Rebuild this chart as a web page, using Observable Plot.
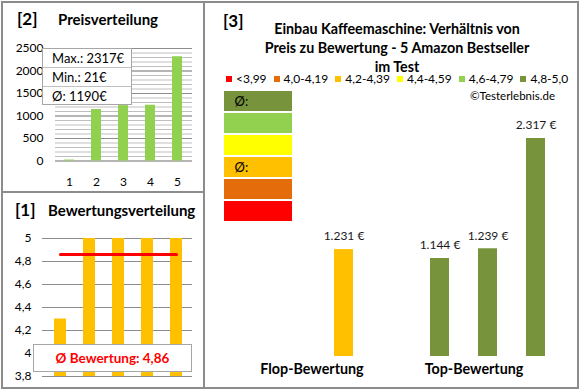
<!DOCTYPE html>
<html>
<head>
<meta charset="utf-8">
<script src="https://cdn.jsdelivr.net/npm/d3@7"></script>
<script src="https://cdn.jsdelivr.net/npm/@observablehq/plot@0.6"></script>
<style>
  html, body { margin: 0; padding: 0; background: #fff; }
  body { font-family: Lato, "Open Sans", sans-serif; color: #000; }
  #wrap { position: relative; width: 580px; height: 390px; overflow: hidden; }
  .abs { position: absolute; }
  .frame { position: absolute; border: 2px solid #8c8c8c; box-sizing: border-box; }
  .t-num { font-weight: 700; font-size: 17px; }
  .t-head { font-weight: 700; font-size: 15px; white-space: nowrap; }
  .t-main { font-weight: 700; font-size: 14.3px; white-space: nowrap; }
  .sumbox { background: #fff; border: 1px solid #a6a6a6; box-sizing: border-box; }
  .sumrow { height: 19px; line-height: 19px; padding-left: 9px; font-size: 13px; border-bottom: 1px solid #c0c0c0; box-sizing: border-box; }
  .sumrow:last-child { border-bottom: none; }
  .legend { display: flex; align-items: center; font-size: 12px; white-space: nowrap; }
  .legend span.sw { display: inline-block; width: 6px; height: 6px; margin-right: 4px; }
  .legend span.it { display: inline-flex; align-items: center; margin-right: 7px; }
</style>
</head>
<body>
<div id="wrap"></div>
<script>
// ---------------- data ----------------
const priceCats = ["1", "2", "3", "4", "5"];
const priceValues = [21, 1144, 1231, 1239, 2317];
const priceTicks = [0, 500, 1000, 1500, 2000, 2500];
const priceSummary = ["Max.: 2317€", "Min.: 21€", "Ø: 1190€"];

const ratingCats = ["1", "2", "3", "4", "5"];
const ratingValues = [4.3, 5, 5, 5, 5];
const ratingAvg = 4.86;
const ratingTicks = [3.8, 4, 4.2, 4.4, 4.6, 4.8, 5];
const ratingAvgLabel = "Ø Bewertung: 4,86";

const classLabels = ["<3,99", "4,0-4,19", "4,2-4,39", "4,4-4,59", "4,6-4,79", "4,8-5,0"];
const classColors = ["#FF0000", "#E46C0A", "#FFC000", "#FFFF00", "#92D050", "#77933C"];

const compSlots = ["s1", "s2", "s3", "s4", "s5"];
const compValues = [1231, 21, 1144, 1239, 2317];
const compClass = ["4,2-4,39", "4,8-5,0", "4,8-5,0", "4,8-5,0", "4,8-5,0"];
const compGroups = ["Flop-Bewertung", "Top-Bewertung"];
const compAxisMin = 186;

const stackMarked = ["4,8-5,0", "4,2-4,39"];

const titleLines = ["Einbau Kaffeemaschine: Verhältnis von", "Preis zu Bewertung - 5 Amazon Bestseller", "im Test"];
const copyright = "©Testerlebnis.de";

// ---------------- helpers ----------------
const wrap = document.getElementById("wrap");
function place(node, left, top) {
  node.style.position = "absolute";
  node.style.left = left + "px";
  node.style.top = top + "px";
  wrap.appendChild(node);
  return node;
}
function div(html, cls, left, top, extra) {
  const d = document.createElement("div");
  if (cls) d.className = cls;
  d.innerHTML = html;
  if (extra) Object.assign(d.style, extra);
  return place(d, left, top);
}
const de = d3.formatLocale({decimal: ",", thousands: ".", grouping: [3], currency: ["", "€"]});
const fmtThousands = de.format(",");
const fmtComma = d => String(d).replace(".", ",");
const baseStyle = {fontFamily: "Lato, 'Open Sans', sans-serif", fontSize: "12px", color: "#000", background: "transparent", overflow: "visible"};

// ---------------- panel [2] Preisverteilung ----------------
const priceRows = priceCats.map((c, i) => ({cat: c, value: priceValues[i]}));
const minorGrid = d3.range(0, 2501, 100);
const pricePlot = Plot.plot({
  width: 200, height: 192,
  marginLeft: 55, marginRight: 8, marginTop: 48, marginBottom: 31.5,
  style: baseStyle,
  x: {type: "band", domain: priceCats, range: [55.5, 190.5], paddingInner: 0.63, paddingOuter: 0.315, tickSize: 0, tickPadding: 16, label: null},
  y: {domain: [0, 2500], ticks: priceTicks, tickFormat: d => String(d), tickSize: 0, tickPadding: 12, label: null},
  marks: [
    Plot.ruleY(minorGrid, {stroke: "#bfbfbf", strokeWidth: 1}),
    Plot.ruleY(priceTicks, {stroke: "#8c8c8c", strokeWidth: 1}),
    Plot.barY(priceRows, {x: "cat", y: "value", fill: "#92D050"})
  ]
});
place(pricePlot, 0, 0);

// ---------------- panel [1] Bewertungsverteilung ----------------
const ratingRows = ratingCats.map((c, i) => ({cat: c, value: ratingValues[i]}));
const ratingPlot = Plot.plot({
  width: 200, height: 196,
  marginLeft: 42, marginRight: 8, marginTop: 46, marginBottom: 12,
  style: baseStyle,
  x: {type: "band", domain: ratingCats, range: [45.5, 190.5], paddingInner: 0.586, paddingOuter: 0.293, axis: null},
  y: {domain: [ratingTicks[0], ratingTicks[ratingTicks.length - 1]], ticks: ratingTicks, tickFormat: fmtComma, tickSize: 0, tickPadding: 11, label: null},
  marks: [
    Plot.ruleY(ratingTicks, {stroke: "#8c8c8c", strokeWidth: 1}),
    Plot.barY(ratingRows, {x: "cat", y1: () => ratingTicks[0], y2: "value", fill: "#FFC000"}),
    Plot.line(ratingCats, {x: d => d, y: () => ratingAvg, stroke: "#FF0000", strokeWidth: 3})
  ]
});
place(ratingPlot, 0, 192);

// ---------------- panel [3] comparison ----------------
const compRows = compSlots.map((s, i) => ({slot: s, value: compValues[i], cls: compClass[i]}));
const compPlot = Plot.plot({
  width: 373, height: 388,
  marginLeft: 0, marginRight: 0, marginTop: 0, marginBottom: 32,
  style: baseStyle,
  x: {type: "band", domain: compSlots, range: [114.5, 354.5], paddingInner: 0.604, paddingOuter: 0.302, axis: null},
  y: {domain: [compAxisMin, d3.max(compValues)], range: [356, 138], axis: null},
  color: {domain: classLabels, range: classColors},
  marks: [
    Plot.barY(compRows, {x: "slot", y: "value", fill: "cls", clip: true}),
    Plot.text(compRows, {x: "slot", y: "value", text: d => fmtThousands(d.value) + " €", dy: -13, fill: "#1a1a1a", fontSize: 12, clip: true})
  ]
});
place(compPlot, 205, 0);

// colour stack
const stackRows = classLabels.slice().reverse().map(l => ({cls: l}));
const stackPlot = Plot.plot({
  width: 68, height: 132,
  margin: 0,
  style: {...baseStyle, fontSize: "13px"},
  y: {type: "band", domain: stackRows.map(d => d.cls), paddingInner: 0.09, paddingOuter: 0, axis: null},
  color: {domain: classLabels, range: classColors},
  marks: [
    Plot.cell(stackRows, {y: "cls", fill: "cls"}),
    Plot.text(stackRows.filter(d => stackMarked.includes(d.cls)), {y: "cls", text: () => "Ø:", frameAnchor: "left", textAnchor: "start", dx: 10, fill: "#000"})
  ]
});
place(stackPlot, 224, 90);

// ---------------- frames ----------------
div("", "frame", 1, 1, {width: "578px", height: "388px"});
div("", "abs", 203, 1, {width: "2px", height: "388px", background: "#8c8c8c"});
div("", "abs", 1, 191, {width: "203px", height: "2px", background: "#8c8c8c"});

// ---------------- titles ----------------
div("[2]", "t-num", 17, 8);
div("Preisverteilung", "t-head", 58, 10);
div("[1]", "t-num", 15, 199);
div("Bewertungsverteilung", "t-head", 48, 201);
div("[3]", "t-num", 223, 10);
div(titleLines.join("<br>"), "t-main", 222, 19, {width: "350px", textAlign: "center", lineHeight: "19px"});
div(copyright, "abs", 470, 89, {fontSize: "11.5px"});

// legend
div(classLabels.map((l, i) =>
  `<span class="it"><span class="sw" style="background:${classColors[i]}"></span>${l}</span>`).join(""),
  "legend", 226, 71);

// price summary box
div(priceSummary.map(s => `<div class="sumrow">${s}</div>`).join(""), "sumbox", 42, 48, {width: "90px", height: "57px"});

// rating average box
div(ratingAvgLabel, "sumbox", 33, 344, {width: "159px", height: "28px", lineHeight: "26px", textAlign: "center", color: "#FF0000", fontWeight: "700", fontSize: "13.5px"});

// group labels
div(compGroups[0], "t-head", 252, 360, {width: "120px", textAlign: "center", fontSize: "14.3px"});
div(compGroups[1], "t-head", 414, 360, {width: "120px", textAlign: "center", fontSize: "14.3px"});
</script>
</body>
</html>
